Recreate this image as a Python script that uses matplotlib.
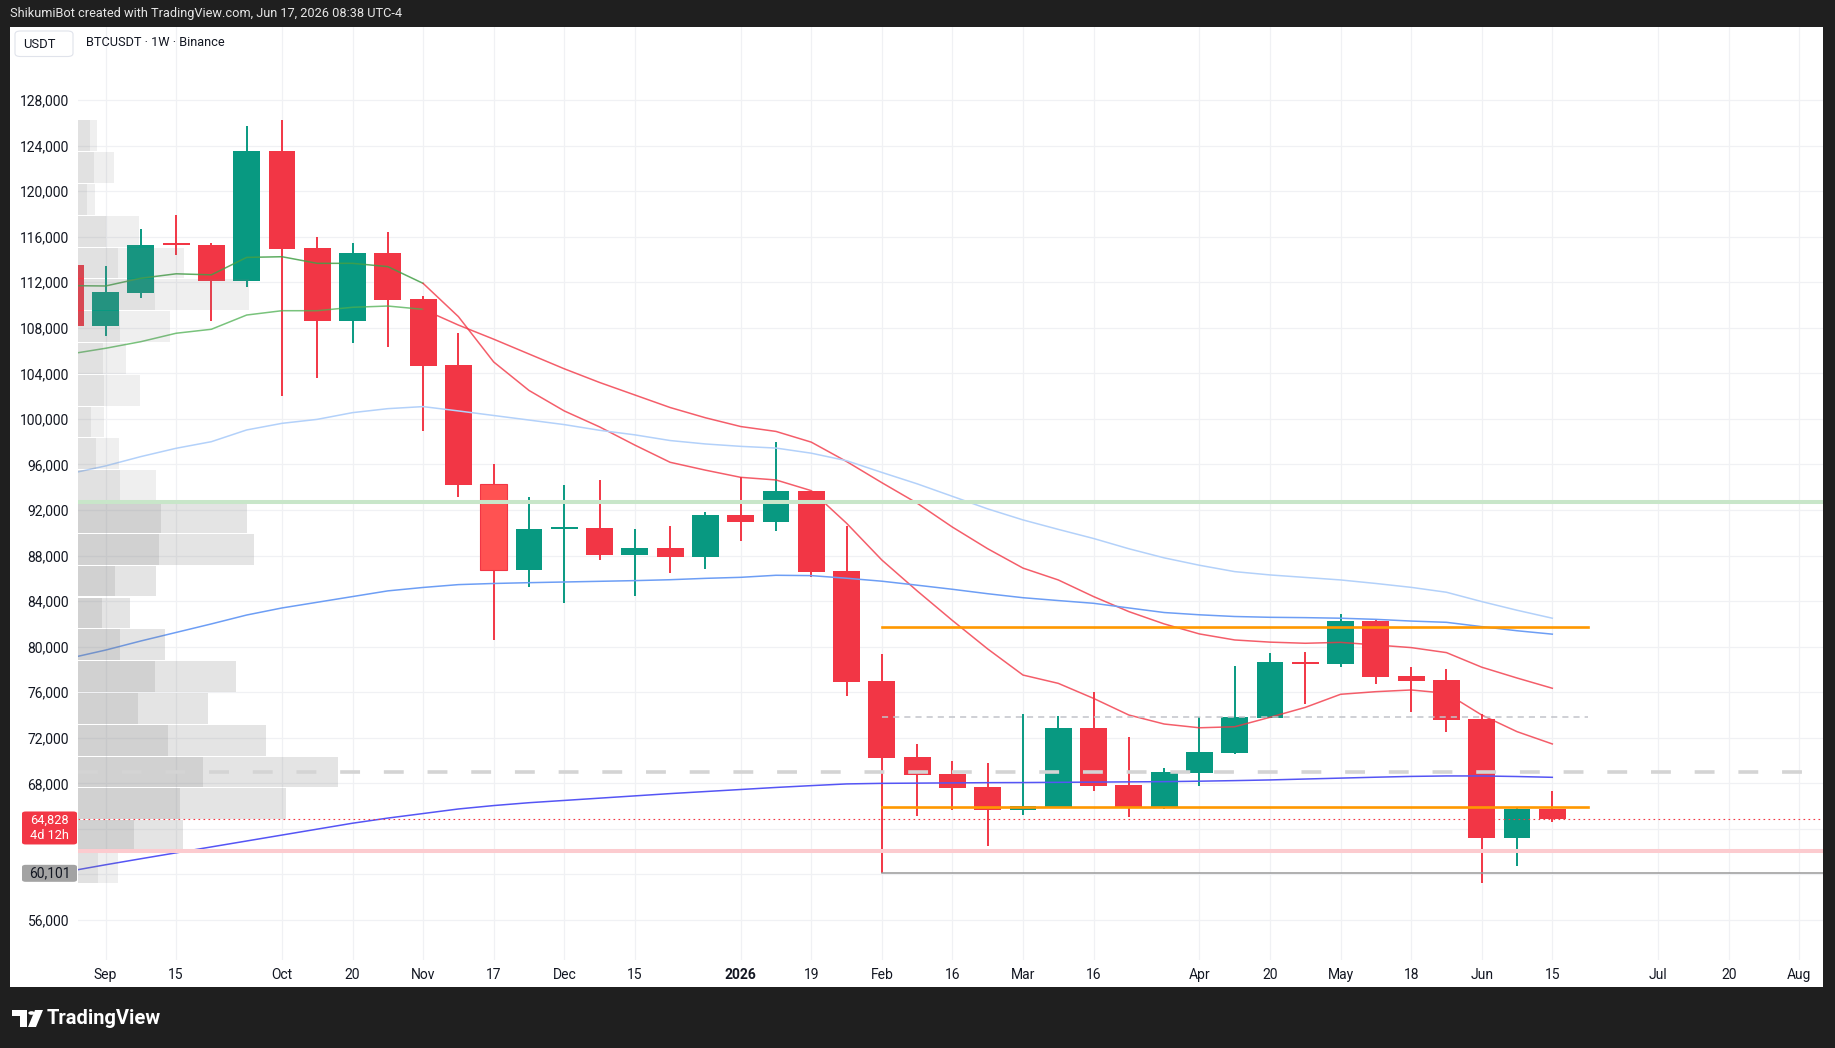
import matplotlib
matplotlib.use('Agg')
import matplotlib.pyplot as plt
import matplotlib.dates as mdates
from matplotlib.patches import Rectangle, FancyBboxPatch, Polygon, Circle
from matplotlib.transforms import blended_transform_factory
import numpy as np
import pandas as pd

plt.rcParams['font.family'] = ['Roboto', 'DejaVu Sans']

# ---- weekly candles BTCUSDT (Aug 25 2025 .. Jun 15 2026) ----
weeks = pd.date_range('2025-08-25', periods=43, freq='7D')
opens = [113520, 108190, 111090, 115350, 115280, 112140, 123530, 115040, 108630, 114570,
         110540, 104740, 94290, 86760, 90350, 90420, 88050, 88670, 87900, 91560,
         90990, 93670, 86650, 77000, 70320, 68820, 67680, 65700, 65930, 72860,
         67860, 65930, 68940, 70700, 73770, 78600, 78500, 82260, 77430, 77080,
         73650, 63240, 65750]
highs = [113700, 113430, 116680, 117910, 115450, 125720, 126250, 115980, 115450, 116420,
         110800, 107550, 96040, 93140, 94200, 94640, 90330, 90600, 91830, 94870,
         97970, 93700, 90600, 79360, 71460, 70000, 69810, 74090, 73920, 76020,
         72070, 69350, 73830, 78310, 79450, 79540, 82870, 82350, 78220, 78040,
         74090, 65870, 67360]
lows = [107900, 107320, 110650, 114420, 108630, 111620, 102050, 103550, 106700, 106350,
        98980, 93100, 80620, 85270, 83870, 87640, 84480, 86470, 86820, 89310,
        90160, 86150, 75700, 60101, 65170, 65700, 62530, 65230, 65900, 67360,
        65050, 65780, 67800, 70610, 73700, 75000, 78240, 76760, 74300, 72540,
        59230, 60770, 64640]
closes = [108190, 111150, 115280, 115250, 112140, 123530, 114950, 108630, 114570, 110480,
          104680, 94240, 86760, 90330, 90400, 88050, 88670, 87900, 91560, 90990,
          93670, 86590, 76930, 70260, 68760, 67590, 65700, 66010, 72860, 67800,
          65930, 69000, 70760, 73830, 78660, 78480, 82260, 77370, 77020, 73590,
          63240, 65750, 64828]

# ---- moving averages ----
ma_fast = [111700, 111670, 112350, 112740, 112650, 114180, 114240, 113660, 113660, 113370,
           111900, 108980, 105000, 102500, 100700, 99300, 97700, 96190, 95500, 94870,
           94640, 93700, 90840, 87610, 84900, 82300, 79800, 77510, 76780, 75460,
           74000, 73210, 72880, 72970, 73800, 74670, 75820, 76050, 76200, 75910,
           74000, 72540, 71460]
ma_slow = [105700, 106200, 106780, 107520, 107870, 109120, 109500, 109500, 109800, 109910,
           109620, 108240, 107000, 105700, 104400, 103200, 102100, 101000, 100100, 99330,
           98900, 97960, 96260, 94400, 92600, 90500, 88600, 86900, 85860, 84400,
           83080, 82000, 81120, 80590, 80400, 80300, 80380, 80150, 79920, 79480,
           78200, 77250, 76350]
ma_light = [95200, 95870, 96690, 97420, 98000, 99030, 99610, 99960, 100550, 100900,
            101080, 100700, 100300, 99900, 99500, 99000, 98600, 98100, 97800, 97590,
            97440, 96990, 96330, 95300, 94300, 93200, 92100, 91130, 90300, 89500,
            88600, 87800, 87150, 86590, 86300, 86080, 85860, 85550, 85210, 84780,
            83960, 83200, 82500]
ma_mid = [79000, 79700, 80500, 81250, 82000, 82780, 83400, 83900, 84400, 84900,
          85200, 85450, 85550, 85620, 85680, 85740, 85800, 85880, 86000, 86090,
          86270, 86240, 86010, 85750, 85400, 85040, 84650, 84300, 84050, 83810,
          83400, 83000, 82800, 82650, 82580, 82550, 82500, 82400, 82250, 82140,
          81760, 81400, 81100]
ma_long = [60300, 60850, 61380, 61900, 62420, 62940, 63460, 63980, 64500, 64950,
           65350, 65750, 66050, 66300, 66500, 66700, 66900, 67100, 67280, 67460,
           67640, 67800, 67950, 68000, 68020, 68040, 68060, 68070, 68090, 68110,
           68130, 68150, 68190, 68240, 68300, 68380, 68460, 68540, 68610, 68650,
           68650, 68600, 68530]

# ---- visible range volume profile (24 rows, top row first) ----
vp_high, vp_low = 126250, 59230
vp_total = [19, 36, 17, 61, 106, 171, 92, 48, 62, 26, 41, 78,
            169, 176, 78, 52, 87, 158, 130, 188, 260, 208, 105, 40]
vp_inner = [12, 16, 9, 28, 40, 77, 42, 25, 26, 13, 18, 42,
            83, 81, 37, 24, 42, 77, 60, 90, 125, 102, 56, 20]
va_rows = (12, 22)

# ---- drawn levels ----
level_start, level_end = '2026-02-02', '2026-06-22'
resist_level = 81730
support_level = 65925
mid_level = 73855
swing_low = 60101
last_price = 64828
countdown = '4d 12h'

price_ticks = list(range(56000, 128001, 4000))
hidden_ticks = [60000, 64000]   # covered by the price badges
tick_dates = ['2025-09-01', '2025-09-15', '2025-10-06', '2025-10-20', '2025-11-03',
              '2025-11-17', '2025-12-01', '2025-12-15', '2026-01-05', '2026-01-19',
              '2026-02-02', '2026-02-16', '2026-03-02', '2026-03-16', '2026-04-06',
              '2026-04-20', '2026-05-04', '2026-05-18', '2026-06-01', '2026-06-15',
              '2026-07-06', '2026-07-20', '2026-08-03']
tick_labels = ['Sep', '15', 'Oct', '20', 'Nov', '17', 'Dec', '15', '2026', '19',
               'Feb', '16', 'Mar', '16', 'Apr', '20', 'May', '18', 'Jun', '15',
               'Jul', '20', 'Aug']

UP, DOWN = '#089981', '#F23645'
TXT = '#131722'

W, H = 1835, 1048
fig = plt.figure(figsize=(W / 100, H / 100), dpi=100, facecolor='#1f1f1f')


def fx(px):
    return px / W


def fy(py):
    return 1 - py / H


fig.patches.append(Rectangle((fx(10), fy(987)), fx(1823) - fx(10), fy(27) - fy(987),
                             transform=fig.transFigure, facecolor='white',
                             edgecolor='none', zorder=-5))

ax = fig.add_axes([fx(78), fy(960), fx(1823) - fx(78), fy(27) - fy(960)])
ax.set_facecolor('white')
for s in ax.spines.values():
    s.set_visible(False)

x = mdates.date2num(weeks)
x0 = mdates.date2num(pd.Timestamp('2025-09-01'))
ax.set_xlim(x0 - 5.46, x0 + 340.7)
ax.set_ylim(52490, 134410)

ax.set_yticks(price_ticks)
ax.set_yticklabels(['' if p in hidden_ticks else f'{p:,}' for p in price_ticks])
ax.set_xticks(mdates.date2num(pd.to_datetime(tick_dates)))
ax.set_xticklabels(tick_labels)
for lab in ax.get_xticklabels():
    if lab.get_text() == '2026':
        lab.set_fontweight('bold')
ax.tick_params(axis='both', length=0, labelsize=10, labelcolor=TXT)
ax.tick_params(axis='y', pad=6.5)
ax.tick_params(axis='x', pad=6)
ax.grid(True, color='#f0f1f4', linewidth=0.9, zorder=0)
ax.set_axisbelow(True)

# candles
body_w = 5.34
for i in range(len(x)):
    o, h, l, c = opens[i], highs[i], lows[i], closes[i]
    col = UP if c >= o else DOWN
    ax.vlines(x[i], l, h, color=col, linewidth=1.4, zorder=2)
    bot = min(o, c)
    ht = max(abs(c - o), 170)
    face = '#FF5252' if i == 12 else col
    ax.add_patch(Rectangle((x[i] - body_w / 2, bot), body_w, ht, facecolor=face,
                           edgecolor=col, linewidth=0.8 if i == 12 else 0, zorder=2.1))

# moving averages
flip = 10
ax.plot(x[:flip + 1], ma_fast[:flip + 1], color='#43a047', lw=1.1, alpha=0.85, zorder=3)
ax.plot(x[:flip + 1], ma_slow[:flip + 1], color='#4caf50', lw=1.1, alpha=0.75, zorder=3)
ax.plot(x[flip:], ma_fast[flip:], color='#f23645', lw=1.1, alpha=0.8, zorder=3)
ax.plot(x[flip:], ma_slow[flip:], color='#f23645', lw=1.1, alpha=0.8, zorder=3)
ax.plot(x, ma_light, color='#b3d1fa', lw=1.1, zorder=3)
ax.plot(x, ma_mid, color='#6d9ef5', lw=1.1, zorder=3)
ax.plot(x, ma_long, color='#5555f5', lw=1.1, zorder=3)

# volume profile
bt = blended_transform_factory(ax.transAxes, ax.transData)
row_h = (vp_high - vp_low) / len(vp_total)
gap = 90
scale = (260 / 1745) / max(vp_total)
for i, (tot, inn) in enumerate(zip(vp_total, vp_inner)):
    y_bot = vp_high - (i + 1) * row_h + gap / 2
    in_va = va_rows[0] <= i <= va_rows[1]
    a_in, a_out = (0.36, 0.21) if in_va else (0.236, 0.126)
    ax.add_patch(Rectangle((0, y_bot), inn * scale, row_h - gap, transform=bt,
                           facecolor='#808080', alpha=a_in, edgecolor='none', zorder=4))
    ax.add_patch(Rectangle((inn * scale, y_bot), (tot - inn) * scale, row_h - gap,
                           transform=bt, facecolor='#808080', alpha=a_out,
                           edgecolor='none', zorder=4))

poc_row = int(np.argmax(vp_total))
poc = vp_high - (poc_row + 0.5) * row_h
vah = vp_high - va_rows[0] * row_h
val = vp_high - (va_rows[1] + 1) * row_h
ax.plot([0, 1], [vah, vah], transform=bt, color='#c8e6c9', lw=2.9, zorder=5,
        solid_capstyle='butt')
ax.plot([0, 1], [val, val], transform=bt, color='#fccbcf', lw=2.9, zorder=5,
        solid_capstyle='butt')
ax.plot([0, 1], [poc, poc], transform=bt, color='#d4d4d4', lw=2.6, zorder=5,
        dashes=(5.5, 6.6), solid_capstyle='butt')

# drawn levels
xs, xe = mdates.date2num(pd.Timestamp(level_start)), mdates.date2num(pd.Timestamp(level_end))
ax.plot([xs, xe], [resist_level] * 2, color='#ff9800', lw=1.9, zorder=5)
ax.plot([xs, xe], [support_level] * 2, color='#ff9800', lw=1.9, zorder=5)
ax.plot([xs, xe], [mid_level] * 2, color='#c2c4ca', lw=1.1, dashes=(4, 3.3), zorder=5)
ax.plot([xs, x0 + 400], [swing_low] * 2, color='#9a9a9a', lw=1.1, zorder=5)
ax.plot([0, 1], [last_price] * 2, transform=bt, color=DOWN, lw=0.8,
        dashes=(1.5, 3), zorder=5)

# header / footer texts
fig.text(fx(10), fy(14), 'ShikumiBot created with TradingView.com, Jun 17, 2026 08:38 UTC-4',
         color='#e6e6e6', fontsize=9.2, va='center', ha='left')
fig.patches.append(FancyBboxPatch((fx(15), fy(56.5)), fx(73) - fx(15), fy(31) - fy(56.5),
                                  boxstyle='round,pad=0,rounding_size=0.003',
                                  transform=fig.transFigure, facecolor='white',
                                  edgecolor='#e0e3eb', linewidth=0.8, zorder=5))
fig.text(fx(39), fy(44), 'USDT', color=TXT, fontsize=9.4, ha='center', va='center', zorder=6)
fig.text(fx(86), fy(43), 'BTCUSDT · 1W · Binance', color=TXT, fontsize=9.2,
         ha='left', va='center', zorder=6)

# TradingView logo
logo = [Polygon([(12, 1010), (27, 1010), (27, 1027), (20, 1027), (20, 1016), (12, 1016)]),
        Polygon([(35, 1010), (43, 1010), (36, 1027), (28, 1027)])]
for p in logo:
    p.set_xy([(fx(a), fy(b)) for a, b in p.get_xy()])
    p.set_transform(fig.transFigure)
    p.set_facecolor('white')
    p.set_edgecolor('none')
    fig.patches.append(p)
fig.patches.append(Circle((fx(31.5), fy(1013)), 3.2 / W, transform=fig.transFigure,
                          facecolor='white', edgecolor='none'))
fig.text(fx(47), fy(1018), 'TradingView', color='white', fontsize=14.5,
         fontweight='bold', ha='left', va='center')

# price labels on the axis
fig.canvas.draw()


def price_y(p):
    return H - ax.transData.transform((x0, p))[1]


py = price_y(last_price)
fig.patches.append(FancyBboxPatch((fx(22), fy(py + 25)), fx(77) - fx(22), fy(py - 8) - fy(py + 25),
                                  boxstyle='round,pad=0,rounding_size=0.002',
                                  transform=fig.transFigure, facecolor=DOWN,
                                  edgecolor='none', zorder=6))
fig.text(fx(49.5), fy(py + 8.5), f'{last_price:,}\n{countdown}', color='white',
         fontsize=9.2, ha='center', va='center', multialignment='center',
         linespacing=1.3, zorder=7)
gy = price_y(swing_low)
fig.patches.append(FancyBboxPatch((fx(22), fy(gy + 8.5)), fx(77) - fx(22), fy(gy - 8.5) - fy(gy + 8.5),
                                  boxstyle='round,pad=0,rounding_size=0.002',
                                  transform=fig.transFigure, facecolor='#a3a3a3',
                                  edgecolor='none', zorder=6))
fig.text(fx(49.5), fy(gy), f'{swing_low:,}', color=TXT, fontsize=10,
         ha='center', va='center', zorder=7)

fig.savefig('out.png', dpi=100, facecolor=fig.get_facecolor())
